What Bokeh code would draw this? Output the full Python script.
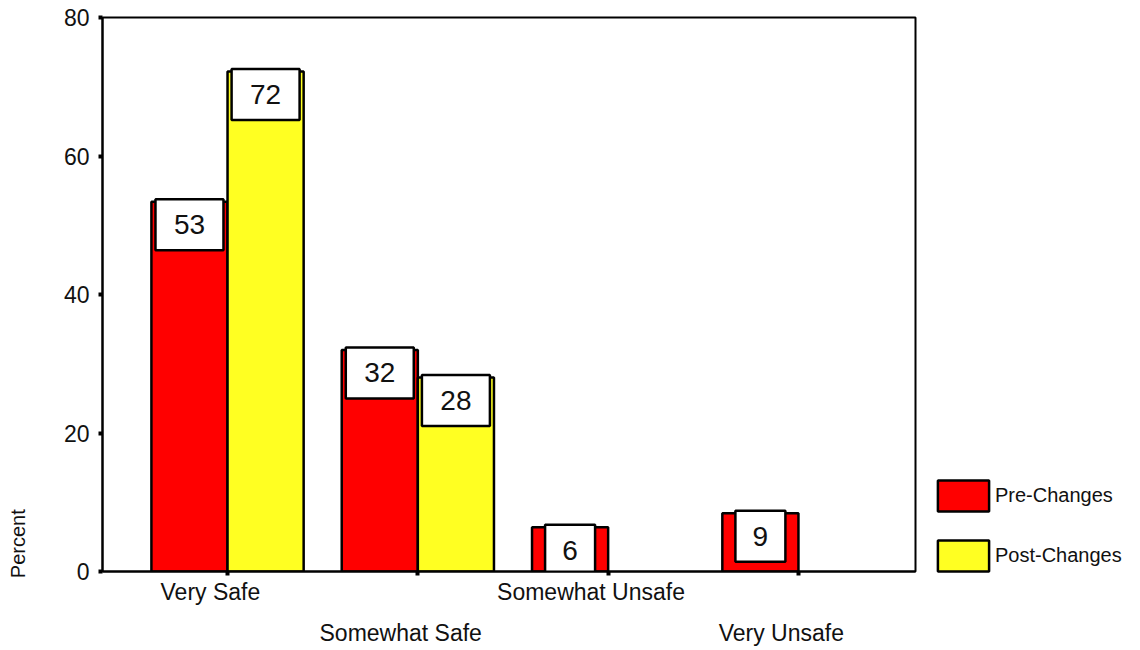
import math
from bokeh.plotting import figure
from bokeh.models import (ColumnDataSource, FixedTicker, LinearAxis,
                          Legend, LegendItem, Range1d)
from bokeh.core.properties import value
from bokeh.embed import file_html
from bokeh.resources import INLINE

# ---- data ----
categories = ["Very Safe", "Somewhat Safe", "Somewhat Unsafe", "Very Unsafe"]
pre_values = [53.4, 32.0, 6.4, 8.4]
pre_labels = ["53", "32", "6", "9"]
post_values = [72.2, 28.0, None, None]
post_labels = ["72", "28", "", ""]
series_names = ["Pre-Changes", "Post-Changes"]
y_ticks = [0, 20, 40, 60, 80]
y_title = "Percent"

RED = "#FF0000"
YELLOW = "#FFFF22"
FONT = "Liberation Sans"
NUM_FONT = "'Liberation Sans Narrow', 'Liberation Sans', sans-serif"

FRAME_W, FRAME_H = 813, 554
Y_MAX = 80
ppu = FRAME_H / Y_MAX

p = figure(frame_width=FRAME_W, frame_height=FRAME_H,
           min_border_left=102, min_border_top=17, min_border_right=225,
           min_border_bottom=79,
           x_range=Range1d(-0.657, 3.615), y_range=Range1d(0, Y_MAX),
           output_backend="svg", toolbar_location=None, x_axis_type=None)
p.background_fill_color = "white"
p.border_fill_color = "white"
p.outline_line_color = "black"
p.outline_line_width = 2
p.grid.visible = False

bar_w = 0.4
pre_x = [i - bar_w / 2 for i in range(len(categories))]
post_x, post_v, post_l = [], [], []
for i, (v, l) in enumerate(zip(post_values, post_labels)):
    if v is not None:
        post_x.append(i + bar_w / 2)
        post_v.append(v)
        post_l.append(l)

box_off = 23 / ppu  # label box sits just below the bar top


def make_src(xs, vs, ls):
    return ColumnDataSource(dict(
        x=xs, top=vs, label=ls,
        by=[v - box_off for v in vs],
        bw=[68 if len(l) > 1 else 50 for l in ls]))


src_pre = make_src(pre_x, pre_values, pre_labels)
src_post = make_src(post_x, post_v, post_l)

r_pre = p.vbar(x="x", top="top", bottom=0, width=bar_w, source=src_pre,
               fill_color=RED, line_color="black", line_width=2.5)
r_post = p.vbar(x="x", top="top", bottom=0, width=bar_w, source=src_post,
                fill_color=YELLOW, line_color="black", line_width=2.5)

for src in (src_pre, src_post):
    p.rect(x="x", y="by", width="bw", height=51, width_units="screen",
           height_units="screen", source=src, fill_color="white",
           line_color="black", line_width=2.5)
    p.text(x="x", y="by", text="label", source=src, text_align="center",
           text_baseline="middle", text_font=value(NUM_FONT),
           text_font_size="28px", text_color="#111111")

# y axis
yax = p.yaxis[0]
yax.ticker = FixedTicker(ticks=y_ticks)
yax.axis_line_width = 2
yax.axis_line_color = "black"
yax.major_tick_out = 4
yax.major_tick_in = 0
yax.major_tick_line_width = 4
yax.minor_tick_line_color = None
yax.major_label_standoff = 9
yax.major_label_text_font = FONT
yax.major_label_text_font_size = "23px"
yax.major_label_text_color = "#111111"

# y axis title, placed low on the left as in the original
# (non-breaking spaces shift the start-aligned, centred label upwards)
yax.axis_label = "\u00a0" * 10 + y_title
yax.axis_label_align = "start"
yax.axis_label_standoff = 32
yax.axis_label_text_font = FONT
yax.axis_label_text_font_size = "20px"
yax.axis_label_text_font_style = "normal"
yax.axis_label_text_color = "#111111"

# x axis: ticks only
xa = LinearAxis(ticker=FixedTicker(ticks=list(range(len(categories)))))
xa.major_label_overrides = {i: "" for i in range(len(categories))}
xa.major_label_text_font_size = "1px"
xa.major_label_standoff = 0
xa.axis_line_width = 2
xa.major_tick_out = 4
xa.major_tick_in = 0
xa.major_tick_line_width = 4
xa.minor_tick_line_color = None
p.add_layout(xa, "below")

# x category labels, staggered in two rows
lab_shift = -0.09
row1 = [i for i in range(len(categories)) if i % 2 == 0]
row2 = [i for i in range(len(categories)) if i % 2 == 1]
for rows, standoff in ((row1, 3), (row2, 12)):
    ticks = [i + lab_shift for i in rows]
    ax = LinearAxis(ticker=FixedTicker(ticks=ticks))
    ax.major_label_overrides = {t: categories[i] for t, i in zip(ticks, rows)}
    ax.axis_line_color = None
    ax.major_tick_line_color = None
    ax.minor_tick_line_color = None
    ax.major_tick_out = 0
    ax.major_tick_in = 0
    ax.major_label_standoff = standoff
    ax.major_label_text_font = FONT
    ax.major_label_text_font_size = "23px"
    ax.major_label_text_color = "#111111"
    p.add_layout(ax, "below")

legend = Legend(items=[LegendItem(label=series_names[0], renderers=[r_pre]),
                       LegendItem(label=series_names[1], renderers=[r_post])],
                location=(16, -4), glyph_width=64, glyph_height=39,
                spacing=21, padding=0, margin=0, label_standoff=0,
                label_text_font=FONT, label_text_font_size="20px",
                label_text_color="#111111", border_line_color=None,
                background_fill_alpha=0)
p.add_layout(legend, "right")

open("out.html", "w").write(file_html(p, INLINE))
